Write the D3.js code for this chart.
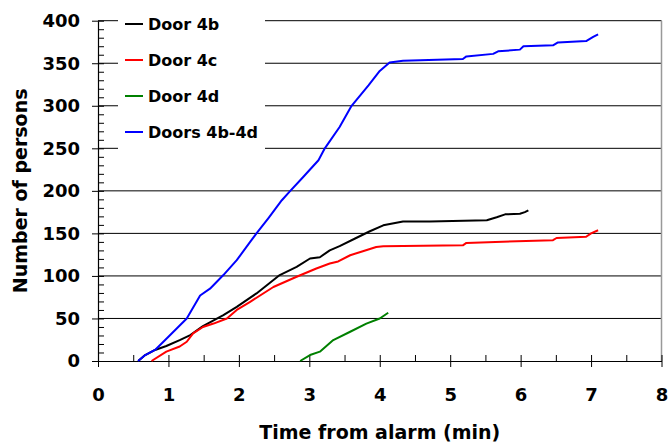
<!DOCTYPE html>
<html>
<head>
<meta charset="utf-8">
<script src="https://cdn.jsdelivr.net/npm/d3@7"></script>
<style>
	body { margin: 0; background: #fff; }
	text { font-family: "DejaVu Sans", Arial, sans-serif; font-weight: bold; }
</style>
</head>
<body>
<svg id="canvas" width="668" height="443"></svg>
<script>
// series data: [time (min), number of persons]
var door4b = [[0.57,0],[0.67,7],[0.81,13],[0.97,17.6],[1.16,24.6],[1.31,30.5],[1.49,41],[1.78,54],[1.97,63.7],[2.25,79.4],[2.58,101],[2.82,110.6],[3.01,120.5],[3.15,122],[3.29,130],[3.43,135],[3.65,144],[3.86,152.5],[4.05,159.5],[4.33,164],[4.71,164],[5.52,165.4],[5.66,169],[5.78,172.4],[5.99,173],[6.06,175],[6.11,177]];
var door4c = [[0.76,0],[0.97,11],[1.16,17],[1.26,22.6],[1.35,32.5],[1.49,40],[1.64,44],[1.83,50],[1.97,60],[2.16,69.6],[2.49,87],[2.82,99],[3.1,108.7],[3.29,114.6],[3.41,117],[3.58,124.3],[3.76,129],[3.95,134],[4.05,135],[5.18,136],[5.23,138.8],[6.46,142],[6.51,144.6],[6.93,146],[7.0,150],[7.1,153.7]];
var door4d = [[2.87,0],[3.01,7],[3.15,11],[3.34,24.6],[3.58,34.4],[3.81,44],[4.0,50],[4.12,56.7]];
var doors4b4d = [[0.57,0],[0.67,7],[0.81,13],[1.0,28.5],[1.26,50],[1.45,77],[1.59,85],[1.78,101],[1.97,118.5],[2.16,140],[2.25,150],[2.42,168],[2.61,189],[2.72,199],[2.91,216],[3.13,236],[3.22,250],[3.43,275],[3.6,300],[3.84,324],[4.0,341],[4.14,351],[4.33,353],[5.18,355],[5.23,358],[5.61,361],[5.68,364],[5.99,366],[6.04,370],[6.46,371],[6.53,374.5],[6.93,376],[7.03,381],[7.1,384]];

var seriesNames = ['Door 4b', 'Door 4c', 'Door 4d', 'Doors 4b-4d'];
var seriesData = [door4b, door4c, door4d, doors4b4d];
var seriesColors = ['#000000', '#ff0000', '#008000', '#0000ff'];

var xTicks = [0, 1, 2, 3, 4, 5, 6, 7, 8];
var yTicks = [0, 50, 100, 150, 200, 250, 300, 350, 400];

var svg = d3.select('#canvas');
var x = d3.scaleLinear().domain([0, 8]).range([98, 661.5]);
var y = d3.scaleLinear().domain([0, 400]).range([361, 20.7]);

// gridlines
svg.append('g').selectAll('line')
	.data(yTicks.slice(1))
	.enter().append('line')
	.attr('x1', x(0)).attr('x2', x(8))
	.attr('y1', function(d){ return y(d); })
	.attr('y2', function(d){ return y(d); })
	.attr('stroke', '#000')
	.attr('stroke-width', 1);

// plot area right border
svg.append('line')
	.attr('x1', x(8)).attr('x2', x(8))
	.attr('y1', y(400)).attr('y2', y(0))
	.attr('stroke', '#999')
	.attr('stroke-width', 1.5);

// legend background hides the gridlines behind it
svg.append('rect')
	.attr('x', 118).attr('y', 4)
	.attr('width', 147).attr('height', 154)
	.attr('fill', '#fff');

// y axis, major and minor ticks
var yAxis = svg.append('g')
	.attr('transform', 'translate(' + x(0) + ',0)')
	.call(d3.axisLeft(y).tickValues(yTicks).tickSizeInner(6).tickSizeOuter(0).tickPadding(12));
svg.append('g')
	.attr('transform', 'translate(' + x(0) + ',0)')
	.call(d3.axisRight(y).tickValues(d3.range(0, 401, 10)).tickSize(6).tickFormat(''))
	.select('.domain').remove();
yAxis.selectAll('text').attr('font-size', 18).attr('font-family', null);

// x axis, major ticks cross the axis
var xAxis = svg.append('g')
	.attr('transform', 'translate(0,' + y(0) + ')')
	.call(d3.axisBottom(x).tickValues(xTicks).tickSizeInner(6).tickSizeOuter(0).tickPadding(21));
svg.append('g')
	.attr('transform', 'translate(0,' + y(0) + ')')
	.call(d3.axisTop(x).tickValues(d3.range(0, 8.01, 0.5)).tickSize(6).tickFormat(''))
	.select('.domain').remove();
xAxis.selectAll('text').attr('font-size', 18).attr('font-family', null);

svg.selectAll('.tick line').attr('stroke', '#000');
svg.selectAll('.domain').attr('stroke', '#000').attr('stroke-width', 1.2);

// series lines
var line = d3.line()
	.x(function(d){ return x(d[0]); })
	.y(function(d){ return y(d[1]); });

seriesData.forEach(function(data, i){
	svg.append('path')
		.datum(data)
		.attr('d', line)
		.attr('fill', 'none')
		.attr('stroke', seriesColors[i])
		.attr('stroke-width', 2)
		.attr('stroke-linejoin', 'round');
});

// legend
var legend = svg.append('g');
seriesNames.forEach(function(name, i){
	var ly = 24 + i * 36;
	legend.append('line')
		.attr('x1', 125).attr('x2', 143)
		.attr('y1', ly).attr('y2', ly)
		.attr('stroke', seriesColors[i])
		.attr('stroke-width', 2);
	legend.append('text')
		.attr('x', 148).attr('y', ly)
		.attr('dy', '0.36em')
		.attr('font-size', 16)
		.text(name);
});

// axis titles
svg.append('text')
	.attr('x', x(4)).attr('y', 439)
	.attr('text-anchor', 'middle')
	.attr('font-size', 19)
	.text('Time from alarm (min)');

svg.append('text')
	.attr('transform', 'translate(27,' + y(200) + ') rotate(-90)')
	.attr('text-anchor', 'middle')
	.attr('font-size', 19)
	.text('Number of persons');
</script>
</body>
</html>
